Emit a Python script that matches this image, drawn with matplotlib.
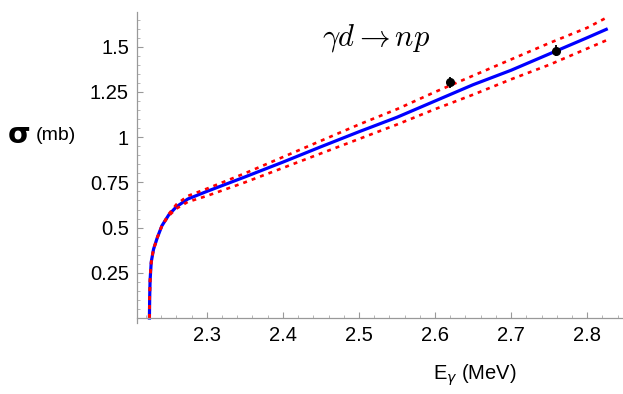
import matplotlib
matplotlib.use("Agg")
import matplotlib.pyplot as plt
from matplotlib.ticker import MultipleLocator

plt.rcParams['font.family'] = ['Liberation Sans', 'DejaVu Sans']

# photon energy (MeV) and cross sections (mb)
energy = [2.2246, 2.2250, 2.2255, 2.227, 2.230, 2.235, 2.241, 2.250, 2.260,
          2.275, 2.30, 2.35, 2.40, 2.45, 2.50, 2.55, 2.60, 2.65, 2.70, 2.75,
          2.80, 2.825]
sigma = [0.0, 0.12, 0.21, 0.31, 0.38, 0.445, 0.51, 0.57, 0.615,
         0.658, 0.70, 0.78, 0.862, 0.947, 1.03, 1.11, 1.20, 1.29, 1.37, 1.46,
         1.55, 1.596]
sigma_hi = [0.0, 0.12, 0.21, 0.31, 0.38, 0.445, 0.51, 0.575, 0.628,
            0.675, 0.715, 0.80, 0.89, 0.98, 1.07, 1.155, 1.25, 1.34, 1.43, 1.52,
            1.605, 1.66]
sigma_lo = [0.0, 0.12, 0.21, 0.31, 0.38, 0.445, 0.51, 0.565, 0.605,
            0.642, 0.675, 0.75, 0.83, 0.91, 0.99, 1.07, 1.155, 1.235, 1.32, 1.40,
            1.49, 1.535]

data_e = [2.620, 2.759]
data_s = [1.303, 1.478]
data_err = [0.032, 0.032]

yticks = [0.25, 0.5, 0.75, 1.0, 1.25, 1.5]
ytick_labels = ["0.25", "0.5", "0.75", "1", "1.25", "1.5"]
xticks = [2.3, 2.4, 2.5, 2.6, 2.7, 2.8]
xtick_labels = ["2.3", "2.4", "2.5", "2.6", "2.7", "2.8"]

fig = plt.figure(figsize=(6.23, 3.94), dpi=100)
ax = fig.add_axes([0.2204, 0.179, 0.7796, 0.791])

ax.plot(energy, sigma, color='#0000ff', lw=2.3)
ax.plot(energy, sigma_hi, color='#ff0000', lw=1.9, linestyle=(0, (1.5, 1.9)))
ax.plot(energy, sigma_lo, color='#ff0000', lw=1.9, linestyle=(0, (1.5, 1.9)))
ax.errorbar(data_e, data_s, yerr=data_err, fmt='o', color='black',
            ms=5.5, elinewidth=1.3, capsize=0, zorder=5)

ax.set_xlim(2.2087, 2.847)
ax.set_ylim(-0.03, 1.693)

for s in ['top', 'right']:
    ax.spines[s].set_visible(False)
ax.spines['bottom'].set_position(('data', 0))
for s in ['left', 'bottom']:
    ax.spines[s].set_color('#999999')
    ax.spines[s].set_linewidth(0.9)

ax.set_xticks(xticks)
ax.set_xticklabels(xtick_labels)
ax.set_yticks(yticks)
ax.set_yticklabels(ytick_labels)
ax.xaxis.set_minor_locator(MultipleLocator(0.02))
ax.yaxis.set_minor_locator(MultipleLocator(0.05))
ax.tick_params(which='major', direction='in', length=4, width=0.8,
               color='#999999', labelsize=14.5, pad=6)
ax.tick_params(which='minor', direction='in', length=2.2, width=0.6,
               color='#aaaaaa')

ax.text(2.5228, 1.548, r'$\gamma d \rightarrow np$', fontsize=22,
        math_fontfamily='cm', ha='center', va='center')

fig.text(475 / 623, 1 - 375 / 394, r'E$_\gamma$ (MeV)', fontsize=14.5,
         ha='center', va='center', math_fontfamily='dejavusans')
fig.text(8 / 623, 1 - 143 / 394, 'σ', fontsize=21, fontweight='bold',
         ha='left', va='baseline', family=['DejaVu Sans'])
fig.text(36 / 623, 1 - 140 / 394, '(mb)', fontsize=14,
         ha='left', va='baseline')

fig.savefig('out.png', dpi=100)
